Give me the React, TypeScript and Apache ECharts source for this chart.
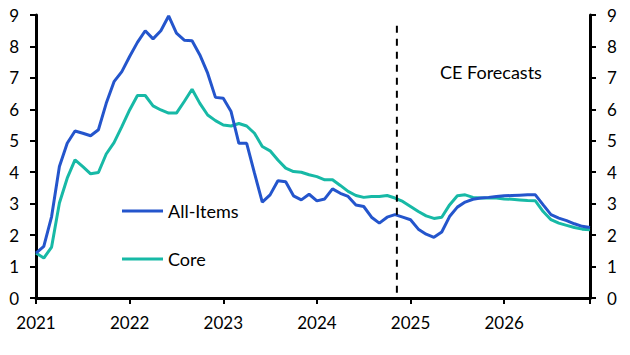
import React, { useEffect, useRef } from "react";
import * as echarts from "echarts";

const startYear = 2021;
const yearTicks = [0, 12, 24, 36, 48, 60];
const allItems = [
  1.43, 1.64, 2.59, 4.18, 4.92, 5.31, 5.24, 5.16, 5.35, 6.19, 6.88, 7.2,
  7.68, 8.13, 8.5, 8.24, 8.5, 8.97, 8.42, 8.2, 8.18, 7.73, 7.15, 6.38,
  6.35, 5.93, 4.92, 4.92, 3.97, 3.05, 3.28, 3.73, 3.7, 3.25, 3.12, 3.3,
  3.09, 3.15, 3.47, 3.33, 3.23, 2.96, 2.91, 2.57, 2.38, 2.57, 2.65, 2.57,
  2.49, 2.19, 2.03, 1.93, 2.1, 2.59, 2.89, 3.05, 3.14, 3.18, 3.2, 3.23,
  3.25, 3.26, 3.27, 3.28, 3.28, 2.96, 2.65, 2.54, 2.46, 2.36, 2.28, 2.24,
];
const core = [
  1.43, 1.27, 1.62, 3.02, 3.81, 4.39, 4.18, 3.95, 3.99, 4.58, 4.94, 5.45,
  5.98, 6.44, 6.44, 6.11, 5.98, 5.88, 5.88, 6.25, 6.64, 6.19, 5.82, 5.64,
  5.5, 5.47, 5.55, 5.47, 5.24, 4.82, 4.68, 4.39, 4.13, 4.02, 4.0, 3.92,
  3.86, 3.76, 3.76, 3.58, 3.39, 3.26, 3.2, 3.23, 3.23, 3.26, 3.18, 3.07,
  2.91, 2.75, 2.61, 2.53, 2.57, 2.96, 3.25, 3.28, 3.2, 3.18, 3.18, 3.18,
  3.15, 3.14, 3.12, 3.1, 3.09, 2.75, 2.49, 2.38, 2.31, 2.24, 2.19, 2.17,
];
const forecastStart = 46.25;
const forecastLineRange = [0.17, 8.72];
const forecastLabel = "CE Forecasts";

const FONT = "Lato";

export default function App() {
  const ref = useRef<HTMLDivElement>(null);
  useEffect(() => {
    if (!ref.current) return;
    const chart = echarts.init(ref.current, null, { renderer: "svg" });
    const toPts = (arr: number[]) => arr.map((v, i) => [i, v]);
    const yAxisCommon = {
      type: "value",
      min: 0,
      max: 9,
      interval: 1,
      splitLine: { show: false },
      axisLine: { show: true, lineStyle: { color: "#000", width: 3 } },
      axisTick: { show: true, length: 6, lineStyle: { color: "#000", width: 2 } },
      axisLabel: { color: "#000", fontFamily: FONT, fontSize: 17, margin: 17 },
    };
    chart.setOption({
      animation: false,
      grid: { left: 36, right: 40, top: 15, bottom: 57 },
      xAxis: {
        type: "value",
        min: 0,
        max: allItems.length - 1,
        interval: 12,
        splitLine: { show: false },
        axisLine: { show: true, onZero: false, lineStyle: { color: "#000", width: 3 } },
        axisTick: { show: true, length: 6, lineStyle: { color: "#000", width: 2 } },
        axisLabel: {
          color: "#000",
          fontFamily: FONT,
          fontSize: 17,
          margin: 16,
          formatter: (v: number) =>
            yearTicks.includes(v) ? String(startYear + v / 12) : "",
        },
      },
      yAxis: [
        { ...yAxisCommon, position: "left" },
        { ...yAxisCommon, position: "right" },
      ],
      legend: {
        data: ["All-Items", "Core"],
        orient: "vertical",
        left: 122,
        top: 201,
        padding: 0,
        icon: "rect",
        itemWidth: 41,
        itemHeight: 3,
        itemGap: 28,
        textStyle: { fontFamily: FONT, fontSize: 18, color: "#000", lineHeight: 20 },
      },
      graphic: [
        {
          type: "text",
          left: 440,
          top: 63,
          style: { text: forecastLabel, fontFamily: FONT, fontSize: 18, fill: "#000" },
        },
      ],
      series: [
        {
          name: "Core",
          type: "line",
          data: toPts(core),
          showSymbol: false,
          lineStyle: { color: "#17b9a6", width: 3 },
          itemStyle: { color: "#17b9a6" },
          z: 2,
        },
        {
          name: "All-Items",
          type: "line",
          data: toPts(allItems),
          showSymbol: false,
          lineStyle: { color: "#2455cc", width: 3 },
          itemStyle: { color: "#2455cc" },
          z: 3,
        },
        {
          name: "forecast",
          type: "line",
          data: forecastLineRange.map((v) => [forecastStart, v]),
          showSymbol: false,
          lineStyle: { color: "#000", width: 2, type: [7, 6] },
          z: 4,
        },
      ],
    });
    return () => chart.dispose();
  }, []);
  return (
    <div
      ref={ref}
      style={{ position: "absolute", left: 0, top: 0, width: 630, height: 355 }}
    />
  );
}
